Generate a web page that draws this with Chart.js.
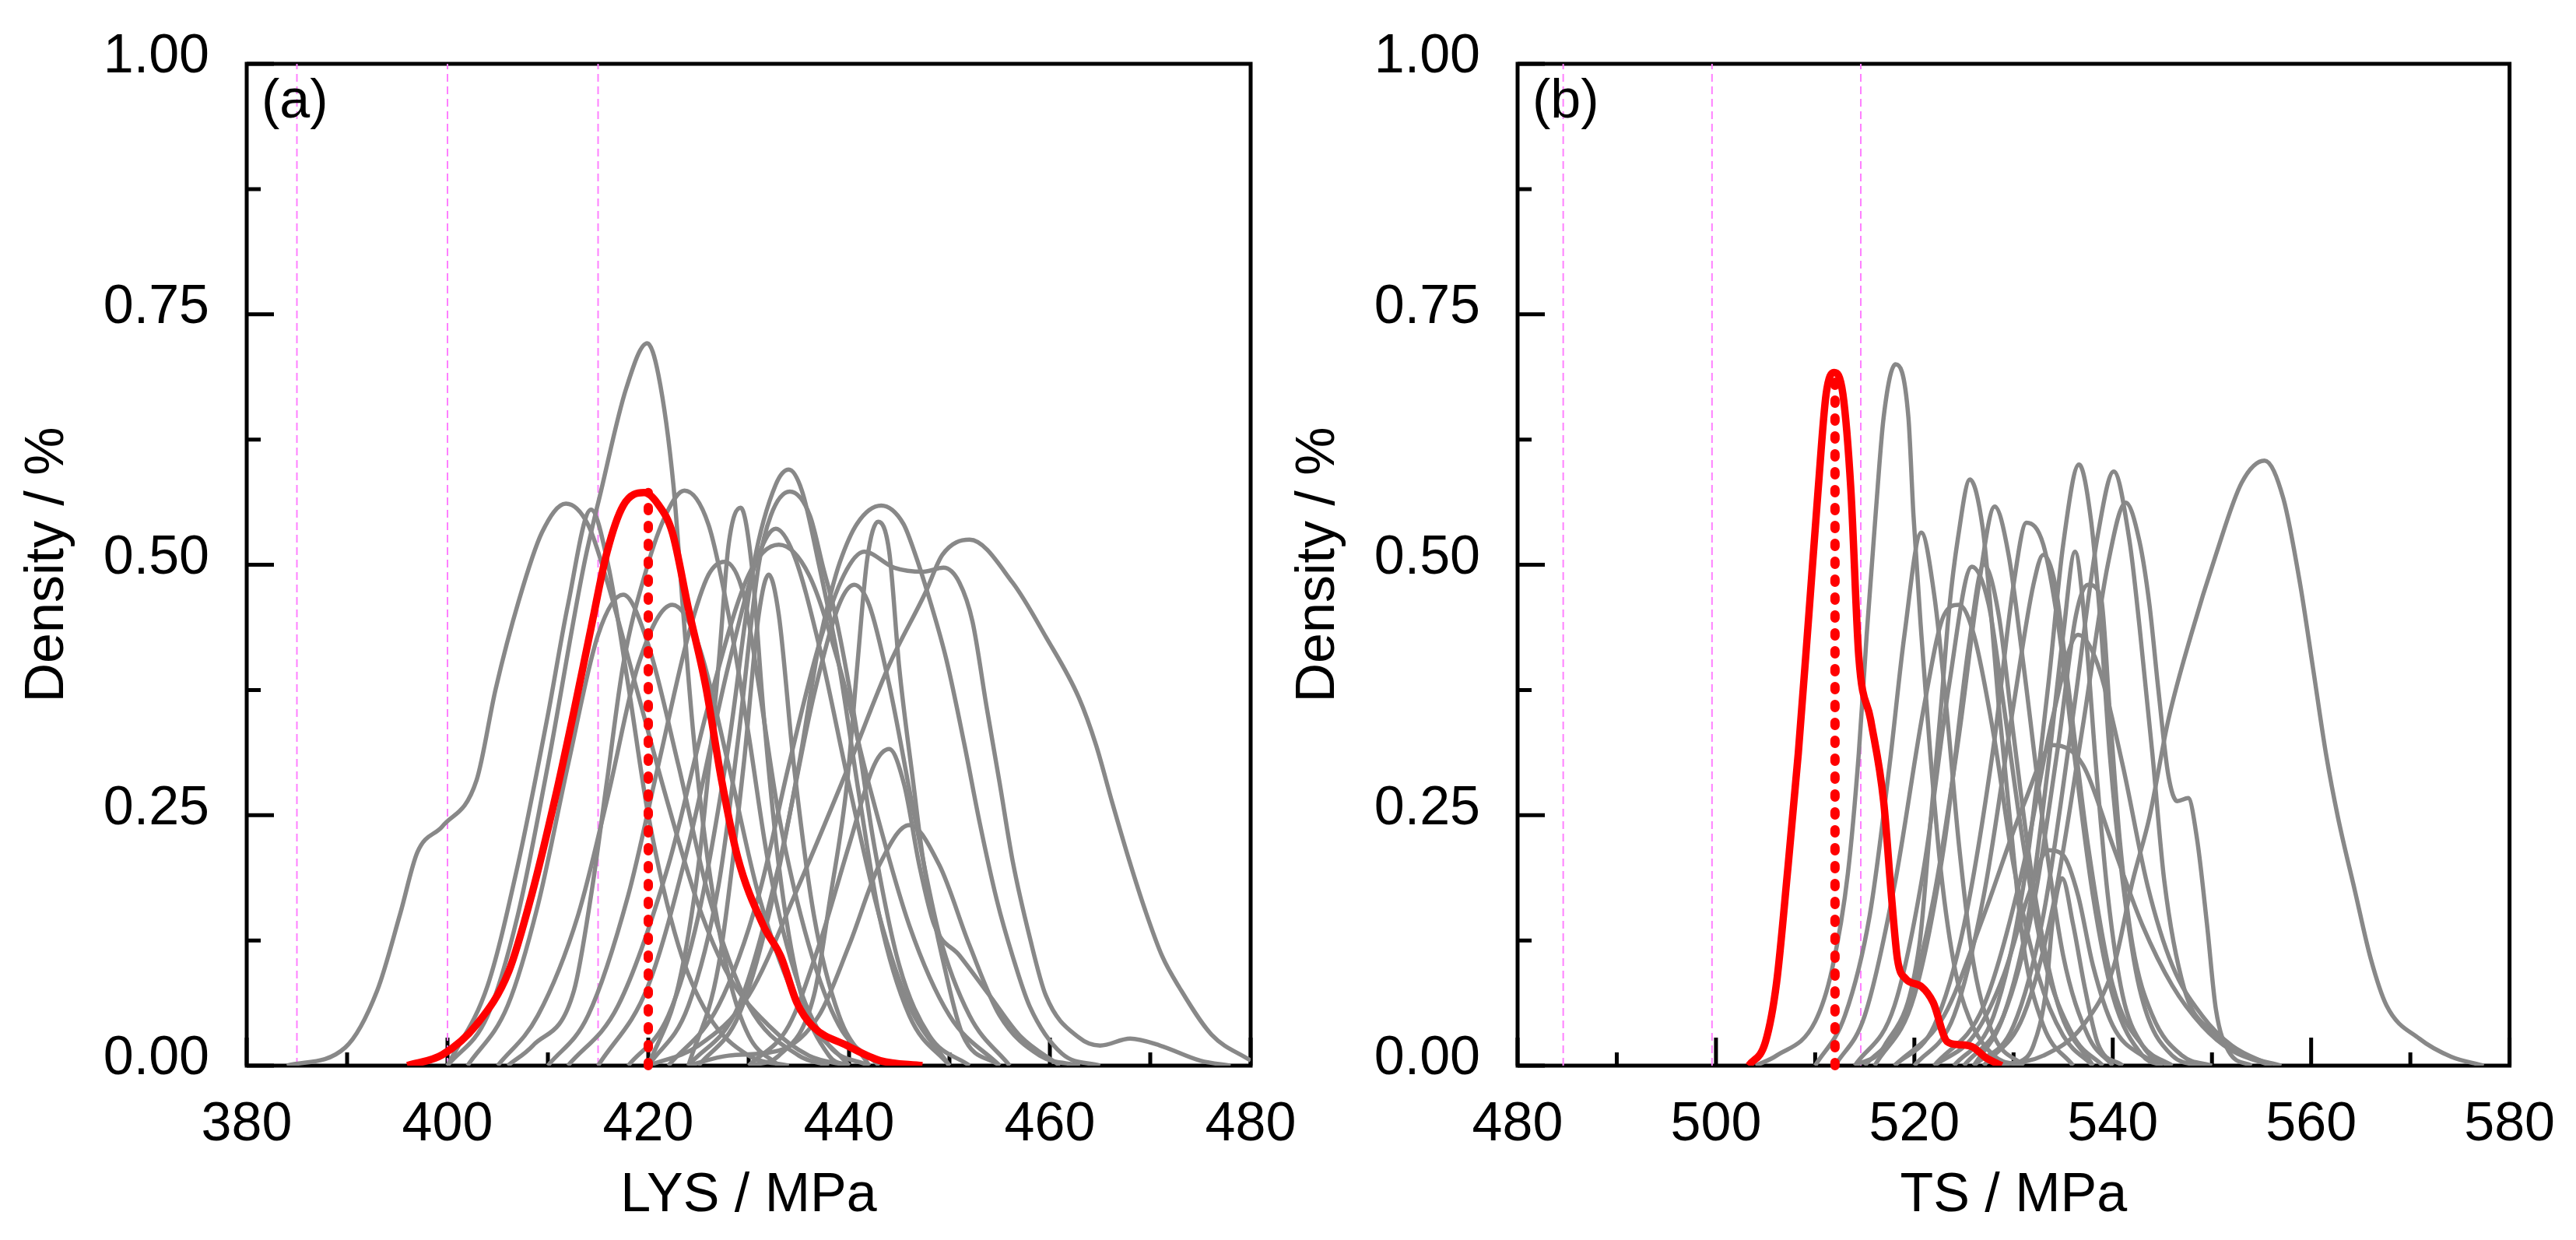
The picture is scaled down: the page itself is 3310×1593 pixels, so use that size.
<!DOCTYPE html>
<html>
<head>
<meta charset="utf-8">
<title>LYS / TS density</title>
<script src="https://cdn.jsdelivr.net/npm/chart.js@4.4.1/dist/chart.umd.min.js"></script>
<style>
  html, body { margin: 0; padding: 0; background: #fff; }
  #wrap { position: relative; width: 3310px; height: 1593px; overflow: hidden; }
  canvas { position: absolute; top: 0; }
  #chartA { left: 0; }
  #chartB { left: 1640px; }
</style>
</head>
<body>
<div id="wrap">
  <canvas id="chartA" width="1700" height="1593"></canvas>
  <canvas id="chartB" width="1670" height="1593"></canvas>
</div>
<script>
// ---------- axes ----------
const lysRange = [380, 480];
const tsRange = [480, 580];
const densityRange = [0, 1];
const lysLimits = [385, 400, 415];      // pink dashed lines (a)
const tsLimits = [484.6, 499.6, 514.6]; // pink dashed lines (b)
const lysMean = 420;
const tsMean = 512;

// ---------- (a) LYS, red = target heat ----------
const lysRed = [[396,0],[399.5,0.011],[402.9,0.041],[406.1,0.094],[408.4,0.171],[410.7,0.266],[412.6,0.354],[414.3,0.437],[415.9,0.513],[417.5,0.559],[419.6,0.572],[421,0.56],[422.4,0.532],[424,0.456],[425.7,0.38],[427.3,0.285],[428.9,0.208],[431.5,0.139],[433.2,0.109],[434.8,0.063],[436.4,0.039],[439.8,0.02],[443.1,0.005],[447.3,0]];

// (a) grey curves
const lys01 = [[384,0],[389.8,0.018],[393,0.075],[395.3,0.152],[397,0.213],[399.5,0.239],[402.9,0.285],[404.8,0.376],[407.1,0.464],[409.4,0.532],[411.8,0.561],[414,0.54],[416,0.48],[419,0.37],[422,0.26],[425,0.16],[428,0.09],[432,0.04],[436,0.01],[440,0]];
const lys02 = [[400,0],[404,0.08],[407,0.2],[410,0.35],[412,0.46],[414.3,0.555],[416,0.5],[418,0.38],[420,0.25],[423,0.12],[426,0.05],[430,0.01],[434,0]];
const lys03 = [[400,0],[404,0.05],[407,0.15],[410,0.3],[413.6,0.5],[415.3,0.574],[417.8,0.676],[419.9,0.721],[421,0.69],[422.5,0.58],[423.5,0.45],[424.5,0.33],[426,0.2],[428,0.09],[430,0.03],[433,0]];
const lys04 = [[406,0],[408.5,0.02],[412.6,0.075],[414.3,0.17],[415.9,0.285],[417.5,0.4],[419.8,0.495],[421.8,0.551],[423.6,0.574],[426,0.54],[428,0.45],[430,0.33],[432,0.2],[435,0.08],[438,0.02],[442,0]];
const lys05 = [[420,0],[423,0.08],[425,0.2],[427,0.4],[428,0.52],[429.2,0.557],[430.3,0.5],[431.5,0.35],[433,0.2],[435,0.08],[438,0.01],[440,0]];
const lys06 = [[410,0],[414,0.05],[418,0.17],[421,0.3],[424,0.43],[426,0.49],[427.6,0.503],[429.5,0.47],[431,0.38],[433,0.25],[436,0.12],[439,0.04],[443,0]];
const lys07 = [[418,0],[422,0.05],[425,0.15],[428,0.32],[430.5,0.5],[432.7,0.58],[434,0.595],[435.3,0.574],[437,0.5],[439,0.4],[441,0.27],[443,0.15],[446,0.05],[450,0]];
const lys08 = [[420,0],[424,0.06],[427,0.18],[429,0.33],[431,0.5],[432.2,0.549],[434.1,0.573],[436.1,0.549],[437.4,0.498],[438.7,0.447],[440.5,0.35],[442.5,0.22],[445,0.1],[448,0.03],[452,0]];
const lys09 = [[415,0],[420,0.08],[424,0.22],[428,0.4],[431,0.51],[432.7,0.536],[434.5,0.51],[437,0.42],[440,0.28],[443,0.15],[446,0.06],[450,0]];
const lys10 = [[412,0],[417,0.06],[422,0.2],[426,0.36],[430,0.49],[433,0.52],[436,0.49],[439,0.4],[442,0.28],[446,0.14],[450,0.05],[455,0]];
const lys11 = [[424,0],[427,0.1],[429.5,0.3],[431,0.45],[432,0.49],[433,0.45],[434.5,0.3],[436.5,0.15],[439,0.05],[442,0]];
const lys12 = [[425,0],[429,0.05],[432,0.15],[435,0.3],[437,0.42],[438.2,0.472],[439.1,0.503],[440.8,0.541],[443.2,0.559],[445.4,0.541],[446.5,0.513],[448,0.466],[449.7,0.405],[451.5,0.32],[453,0.243],[454.7,0.166],[456.3,0.109],[458,0.059],[461.2,0.012],[465,0]];
const lys13 = [[430,0],[433,0.01],[436.5,0.07],[438.1,0.166],[439.8,0.282],[440.8,0.397],[441.8,0.505],[442.9,0.543],[444,0.513],[445,0.397],[446.4,0.282],[447.4,0.204],[449.7,0.09],[451.3,0.031],[455,0]];
const lys14 = [[422,0],[427,0.06],[431,0.17],[434,0.3],[437,0.42],[439.5,0.49],[441.5,0.513],[444.5,0.497],[447.4,0.493],[449.4,0.497],[451,0.482],[452.3,0.443],[453.7,0.358],[455,0.282],[456.3,0.204],[458,0.128],[459.6,0.07],[462.9,0.028],[465,0.02],[468,0.027],[471,0.02],[475,0.005],[478,0]];
const lys15 = [[420,0],[425,0.02],[430,0.07],[435,0.18],[440,0.3],[444,0.4],[447.6,0.472],[449.3,0.51],[452,0.525],[456.3,0.482],[459.6,0.428],[462.9,0.367],[464.6,0.32],[466.2,0.263],[467.9,0.205],[469.5,0.155],[471.2,0.109],[472.9,0.078],[476.1,0.031],[480,0.005]];
const lys16 = [[430,0],[434,0.04],[437,0.12],[440,0.22],[442.5,0.3],[444,0.316],[445.5,0.28],[447,0.2],[448.5,0.14],[451,0.11],[454,0.07],[457,0.03],[461,0]];
const lys17 = [[402,0],[406,0.06],[409,0.16],[412,0.3],[415,0.43],[417.5,0.47],[420,0.42],[423,0.3],[426,0.17],[430,0.06],[435,0.01],[438,0]];
const lys18 = [[405,0],[409,0.05],[413,0.15],[416,0.27],[419,0.4],[422.4,0.46],[425,0.42],[428,0.3],[431,0.17],[435,0.06],[440,0]];
const lys19 = [[424,0],[429,0.06],[433,0.2],[436.5,0.37],[439,0.46],[440.5,0.48],[442,0.46],[444,0.38],[446.5,0.25],[449,0.13],[452,0.05],[456,0]];
const lys20 = [[424,0],[428,0.01],[433,0.015],[437,0.05],[440,0.12],[443,0.2],[446,0.24],[449,0.2],[452,0.12],[455,0.05],[459,0.01],[463,0]];
const lysGrey = [lys01, lys02, lys03, lys04, lys05, lys06, lys07, lys08, lys09, lys10,
                 lys11, lys12, lys13, lys14, lys15, lys16, lys17, lys18, lys19, lys20];

// ---------- (b) TS, red = target heat ----------
const tsRed = [[503.3,0],[505,0.024],[506.1,0.082],[507.2,0.192],[508.3,0.312],[509.4,0.455],[510.3,0.575],[511.1,0.67],[511.9,0.692],[512.8,0.67],[513.6,0.575],[514.4,0.408],[515.6,0.345],[516.9,0.264],[517.7,0.168],[518.3,0.106],[519.1,0.087],[520.7,0.079],[521.9,0.063],[523.3,0.024],[524.4,0.021],[525.8,0.019],[527.2,0.008],[528.8,0]];

// (b) grey curves
const ts01 = [[504,0],[506.1,0.01],[510,0.044],[511.7,0.096],[513.3,0.192],[514.4,0.312],[515.2,0.431],[516.1,0.551],[516.9,0.647],[518.1,0.7],[519.4,0.647],[519.9,0.551],[520.7,0.431],[521.6,0.312],[522.7,0.192],[524.1,0.096],[525.5,0.048],[528,0.01],[531,0]];
const ts02 = [[510,0],[513,0.05],[515.5,0.15],[517.5,0.3],[519,0.43],[520.7,0.532],[522,0.47],[523.3,0.35],[524.5,0.22],[526,0.1],[528,0.03],[531,0]];
const ts03 = [[514,0],[517,0.02],[520.5,0.12],[521.6,0.24],[522.7,0.36],[523.5,0.455],[524.4,0.527],[525.6,0.585],[526.9,0.536],[527.7,0.455],[528.5,0.36],[529.7,0.24],[531,0.12],[533,0.04],[536,0]];
const ts04 = [[515,0],[519,0.05],[522,0.17],[524.5,0.33],[526.5,0.48],[528.1,0.558],[529.5,0.51],[531,0.4],[533,0.24],[535,0.11],[537.5,0.03],[540,0]];
const ts05 = [[518,0],[522,0.04],[525,0.14],[528,0.32],[530,0.48],[531.3,0.542],[533,0.52],[534.5,0.44],[536,0.32],[538,0.17],[540,0.07],[543,0.01],[545,0]];
const ts06 = [[524,0],[528,0.05],[531,0.18],[533.5,0.38],[535,0.52],[536.6,0.6],[537.8,0.545],[538.8,0.438],[539.7,0.311],[541,0.184],[542.7,0.077],[546,0.01],[549,0]];
const ts07 = [[526,0],[530,0.04],[533,0.15],[536,0.35],[538.5,0.53],[540.1,0.593],[541.7,0.523],[542.7,0.438],[544,0.311],[545.2,0.184],[547.2,0.077],[549.8,0.035],[553.5,0.01],[557,0]];
const ts08 = [[527,0],[531,0.05],[534,0.16],[537,0.34],[539.5,0.5],[541.3,0.562],[542.7,0.523],[543.7,0.46],[544.6,0.375],[545.6,0.29],[546.5,0.264],[547.6,0.267],[548.5,0.226],[549.5,0.141],[550.4,0.056],[551.7,0.014],[554,0]];
const ts09 = [[528,0],[533,0.01],[537,0.04],[540.1,0.099],[542,0.184],[543.7,0.248],[545.6,0.345],[547.9,0.43],[550.4,0.51],[553,0.582],[555.3,0.604],[557.2,0.566],[558.9,0.48],[560.2,0.396],[561.5,0.311],[562.7,0.248],[564.4,0.175],[566,0.107],[567.6,0.06],[570.9,0.027],[574.1,0.009],[577.4,0]];
const ts10 = [[526,0],[529,0.05],[531.5,0.15],[533.5,0.3],[535,0.43],[536.2,0.513],[537.2,0.44],[538.3,0.3],[539.5,0.17],[541,0.07],[543,0.02],[545,0]];
const ts11 = [[525,0],[529,0.05],[532,0.16],[534.5,0.32],[536.3,0.45],[537.5,0.48],[538.8,0.468],[539.7,0.353],[540.7,0.226],[542,0.12],[544,0.05],[547,0.01],[550,0]];
const ts12 = [[514,0],[518,0.06],[521,0.2],[523.5,0.38],[525.8,0.498],[527.5,0.46],[529,0.36],[531,0.22],[533,0.11],[536,0.03],[539,0]];
const ts13 = [[512,0],[515,0.05],[518,0.18],[521,0.36],[523,0.45],[524.5,0.46],[526,0.43],[528,0.33],[530,0.2],[532.5,0.09],[535,0.03],[538,0]];
const ts14 = [[530,0],[532,0.02],[533.3,0.077],[533.9,0.141],[534.9,0.187],[536,0.141],[537.2,0.077],[538.5,0.022],[541,0]];
const ts15 = [[522,0],[526,0.03],[529,0.09],[531.5,0.17],[533.5,0.215],[535,0.21],[536.5,0.17],[538,0.1],[540,0.04],[543,0.01],[546,0]];
const ts16 = [[520,0],[524,0.05],[527,0.17],[530,0.36],[532,0.48],[533,0.51],[534.2,0.48],[535.5,0.38],[537.5,0.22],[540,0.08],[543,0.02],[546,0]];
const ts17 = [[516,0],[520,0.07],[523,0.22],[525.5,0.42],[527,0.5],[528.5,0.45],[530,0.33],[532,0.18],[534.5,0.06],[538,0]];
const ts18 = [[518,0],[523,0.05],[527,0.15],[531,0.26],[534,0.32],[537,0.3],[540,0.22],[543,0.14],[546,0.08],[549,0.04],[552,0.015],[556,0]];
const ts19 = [[522,0],[527,0.06],[531,0.2],[534,0.35],[536.5,0.43],[538.5,0.4],[541,0.3],[543.5,0.18],[546,0.1],[549,0.05],[552,0.02],[556,0]];
const tsGrey = [ts01, ts02, ts03, ts04, ts05, ts06, ts07, ts08, ts09, ts10,
                ts11, ts12, ts13, ts14, ts15, ts16, ts17, ts18, ts19];

// ---------- helpers ----------
const FONT = '"Liberation Sans", Arial, Helvetica, sans-serif';
Chart.defaults.font.family = FONT;
Chart.defaults.font.size = 70;
Chart.defaults.color = '#000';

const toPts = arr => arr.map(([x, y]) => ({ x, y }));
const peakOf = arr => arr.reduce((m, p) => (p[1] > m[1] ? p : m), arr[0]);

// frame + inward major/minor ticks, drawn under the curves
const framePlugin = {
  id: 'frame',
  beforeDatasetsDraw(chart, args, opts) {
    const { ctx, chartArea: a, scales: { x, y } } = chart;
    ctx.save();
    ctx.strokeStyle = '#000';
    ctx.lineWidth = 5;
    ctx.strokeRect(a.left, a.top, a.right - a.left, a.bottom - a.top);

    const xv = x.ticks.map(t => t.value);
    const yv = y.ticks.map(t => t.value);
    ctx.beginPath();
    xv.forEach((v, i) => {
      const px = x.getPixelForValue(v);
      ctx.moveTo(px, a.bottom); ctx.lineTo(px, a.bottom - 36);
      if (i < xv.length - 1) {
        const mx = x.getPixelForValue((v + xv[i + 1]) / 2);
        ctx.moveTo(mx, a.bottom); ctx.lineTo(mx, a.bottom - 17);
      }
    });
    yv.forEach((v, i) => {
      const py = y.getPixelForValue(v);
      ctx.moveTo(a.left, py); ctx.lineTo(a.left + 35, py);
      if (i < yv.length - 1) {
        const my = y.getPixelForValue((v + yv[i + 1]) / 2);
        ctx.moveTo(a.left, my); ctx.lineTo(a.left + 18, my);
      }
    });
    ctx.stroke();
    ctx.restore();
  },
  afterDraw(chart, args, opts) {
    const { ctx, chartArea: a } = chart;
    ctx.save();
    ctx.font = '70px ' + FONT;
    ctx.fillStyle = '#000';
    ctx.textAlign = 'left';
    ctx.textBaseline = 'middle';
    ctx.fillText(opts.label, a.left + 19, a.top + 50);
    ctx.restore();
  }
};

function buildChart(canvasId, cfg) {
  const datasets = [];
  // red target curve (on top)
  datasets.push({
    data: toPts(cfg.red), borderColor: '#ff0000', borderWidth: 9.5,
    cubicInterpolationMode: 'monotone'
  });
  // red dotted line at the mean
  datasets.push({
    data: toPts([[cfg.mean, 0], [cfg.mean, peakOf(cfg.red)[1]]]),
    borderColor: '#ff0000', borderWidth: 12, borderDash: [4, 19],
    borderCapStyle: 'round', clip: false
  });
  cfg.grey.forEach(c => datasets.push({
    data: toPts(c), borderColor: '#888888', borderWidth: 5.5,
    cubicInterpolationMode: 'monotone'
  }));
  cfg.limits.forEach(v => datasets.push({
    data: toPts([[v, densityRange[0]], [v, densityRange[1]]]),
    borderColor: '#ff80ff', borderWidth: 2, borderDash: [10, 6]
  }));

  return new Chart(document.getElementById(canvasId), {
    type: 'line',
    data: { datasets },
    options: {
      responsive: false,
      animation: false,
      devicePixelRatio: 1,
      elements: { point: { radius: 0 }, line: { fill: false } },
      layout: { padding: { top: 64, right: cfg.padRight, left: 0, bottom: 0 } },
      plugins: { legend: { display: false }, tooltip: { enabled: false }, frame: { label: cfg.label } },
      scales: {
        x: {
          type: 'linear',
          min: cfg.range[0], max: cfg.range[1],
          grid: { display: false }, border: { display: false },
          ticks: { stepSize: 20, padding: 27, maxRotation: 0, callback: v => String(v) },
          title: { display: true, text: cfg.xTitle, padding: { top: 0, bottom: 14 } },
          afterFit: s => { s.height = 224; }
        },
        y: {
          type: 'linear',
          min: densityRange[0], max: densityRange[1],
          grid: { display: false }, border: { display: false },
          ticks: { stepSize: 0.25, padding: 40, labelOffset: -8, callback: v => v.toFixed(2) },
          title: { display: true, text: 'Density / %', padding: { top: cfg.yTitlePad, bottom: 0 } },
          afterFit: s => { s.width = cfg.yWidth; }
        }
      }
    },
    plugins: [framePlugin]
  });
}

buildChart('chartA', {
  red: lysRed, grey: lysGrey, mean: lysMean, limits: lysLimits, range: lysRange,
  xTitle: 'LYS / MPa', label: '(a)', yWidth: 317, padRight: 93, yTitlePad: 20
});
buildChart('chartB', {
  red: tsRed, grey: tsGrey, mean: tsMean, limits: tsLimits, range: tsRange,
  xTitle: 'TS / MPa', label: '(b)', yWidth: 310, padRight: 69, yTitlePad: 13
});
</script>
</body>
</html>
